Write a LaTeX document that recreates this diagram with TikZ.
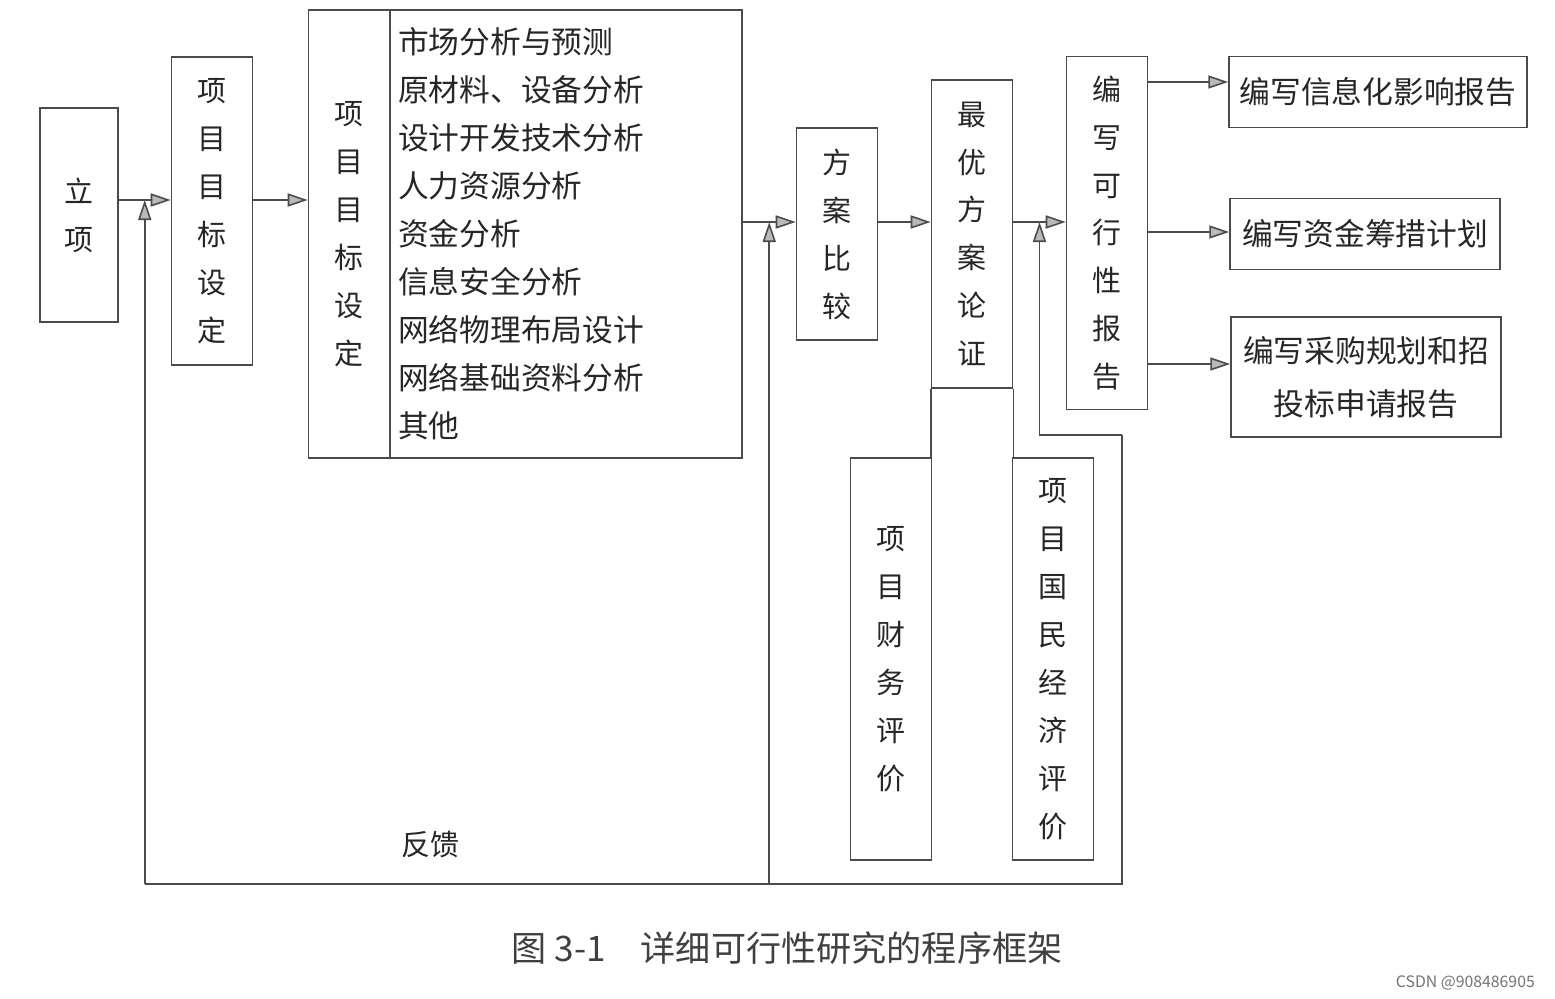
\documentclass[tikz,border=0pt]{standalone}
\usepackage{fontspec}
\setmainfont{Noto Sans CJK SC}
\usetikzlibrary{arrows.meta,positioning,calc}
\definecolor{lngray}{RGB}{75,75,75}
\definecolor{tipgray}{RGB}{185,185,185}

\begin{document}
\begin{tikzpicture}[
  x=0.02cm, y=-0.02cm,
  font=\fontsize{16.5}{27.3}\selectfont,
  bx/.style={draw=lngray, line width=0.9pt, align=center, inner sep=1pt, text=black!85},
  vbx/.style={bx, minimum width=1.62cm},
  hbx/.style={bx, font=\fontsize{17.5}{30}\selectfont, minimum height=1.42cm},
  arr/.style={-{Triangle[length=4mm, width=2.6mm, fill=tipgray]}, draw=lngray, line width=0.9pt},
  fb/.style={draw=lngray, line width=0.9pt}
]
\useasboundingbox (0,0) rectangle (1555,998);
% main chain
\node[vbx, minimum width=1.56cm, minimum height=4.28cm] (lixiang) at (79,215) {立\\项};
\node[vbx, minimum height=6.16cm] (mubiao) at (212,211) {项\\目\\目\\标\\设\\定};
\node[vbx, minimum height=8.96cm] (sheding) at (349,234) {项\\目\\目\\标\\设\\定};
\node[bx, align=left, font=\fontsize{17.5}{27.3}\selectfont, minimum width=7.04cm,
  text width=6.72cm, minimum height=8.96cm] (fenxi) at (566,234)
  {市场分析与预测\\原材料、设备分析\\设计开发技术分析\\人力资源分析\\资金分析\\信息安全分析\\网络物理布局设计\\网络基础资料分析\\其他};
\node[vbx, minimum height=4.24cm] (bijiao) at (837,234) {方\\案\\比\\较};
\node[vbx, minimum height=6.16cm] (lunzheng) at (972,234) {最\\优\\方\\案\\论\\证};
\node[vbx, minimum height=8.04cm] (caiwu) at (891,659) {项\\目\\财\\务\\评\\价};
\node[vbx, minimum height=8.04cm] (jingji) at (1053,659) {项\\目\\国\\民\\经\\济\\评\\价};
\node[vbx, minimum height=7.06cm] (baogao) at (1107,233) {编\\写\\可\\行\\性\\报\\告};
% outputs
\node[hbx, minimum width=5.96cm] (xinxi) at (1378,92) {编写信息化影响报告};
\node[hbx, minimum width=5.4cm] (zijin) at (1365,234) {编写资金筹措计划};
\node[hbx, minimum width=5.4cm, minimum height=2.4cm] (caigou) at (1366,377) {编写采购规划和招\\投标申请报告};
% rows of arrows
\coordinate (r1) at (0,200);
\coordinate (r2) at (0,222);
\coordinate (o1) at (0,82);
\coordinate (o2) at (0,232);
\coordinate (o3) at (0,364);
\draw[arr] (lixiang.east |- r1) -- (mubiao.west |- r1);
\draw[arr] (mubiao.east |- r1) -- (sheding.west |- r1);
\draw[arr] (fenxi.east |- r2) -- (bijiao.west |- r2);
\draw[arr] (bijiao.east |- r2) -- (lunzheng.west |- r2);
\draw[arr] (lunzheng.east |- r2) -- (baogao.west |- r2);
\draw[arr] (baogao.east |- o1) -- (xinxi.west |- o1);
\draw[arr] (baogao.east |- o2) -- (zijin.west |- o2);
\draw[arr] (baogao.east |- o3) -- (caigou.west |- o3);
\draw[fb] (lunzheng.south west) -- (lunzheng.south west |- caiwu.north);
\draw[fb] (lunzheng.south east) -- (lunzheng.south east |- jingji.north);
% feedback
\coordinate (fbturn) at (1122,435);
\coordinate (fbcorner) at (1122,884);
\coordinate (fb1) at ($(lixiang.east |- r1)!0.5!(mubiao.west |- r1)$);
\coordinate (fb2) at ($(fenxi.east |- r2)!0.5!(bijiao.west |- r2)$);
\coordinate (fb3) at ($(lunzheng.east |- r2)!0.5!(baogao.west |- r2)$);
\draw[fb] (fbturn) -- (fbcorner) -- (fbcorner -| fb1);
\draw[arr] (fbcorner -| fb1) -- (fb1);
\draw[arr] (fbcorner -| fb2) -- (fb2);
\draw[arr] (fbturn) -| (fb3);
\node[text=black!85] (fankui) at (430,845) {反馈};
% caption
\node[font=\fontsize{20}{24}\selectfont, text=black!75] (tuming) at (787,948) {图 3-1\quad 详细可行性研究的程序框架};
\node[font=\fontsize{9}{10}\selectfont, text=black!55, anchor=east] (shuiyin) at (1541,983) {CSDN @908486905};
\end{tikzpicture}
\end{document}
